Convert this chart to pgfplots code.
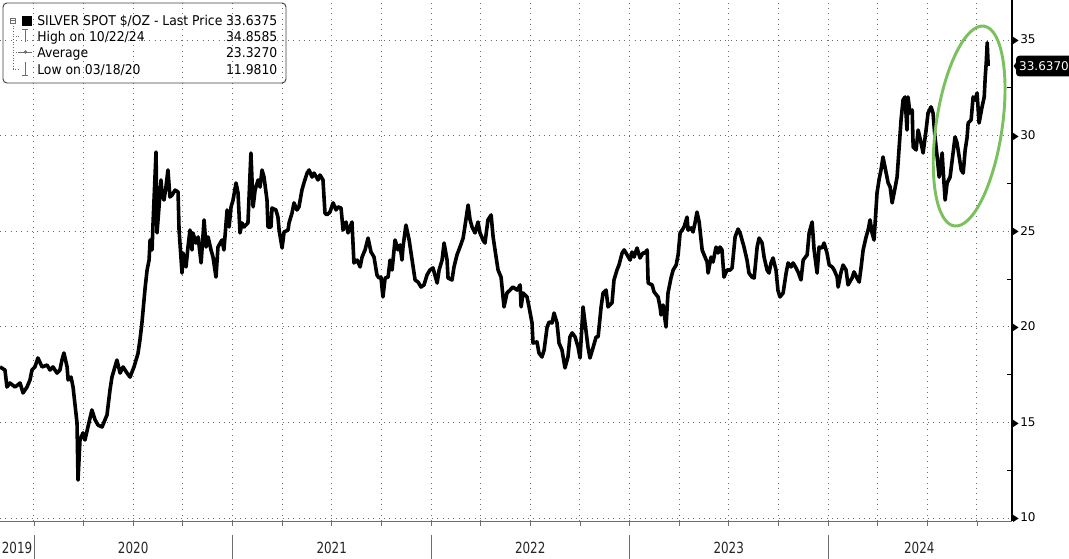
\documentclass[border=0pt]{standalone}
\usepackage{pgfplots}
\pgfplotsset{compat=1.18}
\usepackage{fontspec}
\setmainfont{DejaVu Sans}
\usetikzlibrary{calc}
\definecolor{ellgreen}{RGB}{122,192,92}
\definecolor{gridc}{RGB}{110,110,110}
\newcommand{\tri}{\raisebox{0.2pt}{\scalebox{0.62}[0.82]{▶}}\hspace{1.2pt}}
\newcommand{\lgd}[1]{\scalebox{0.92}[1]{#1}}
\begin{document}
\begin{tikzpicture}[x=1pt,y=1pt]
\begin{axis}[
  at={(0,0)}, anchor=south west,
  scale only axis, width=759pt, height=390.75pt,
  xmin=2019.829, xmax=2024.927, ymin=9.843, ymax=37.092,
  axis x line*=bottom, axis y line*=right,
  x axis line style={-, draw=gridc, line width=0.5pt},
  y axis line style={-, draw=black, line width=0.8pt},
  clip mode=individual,
  xtick={2020,2020.25,...,2024.8},
  xticklabels={},
  minor x tick num=2,
  tick align=outside,
  major tick length=3.75pt, minor tick length=3.75pt,
  xtick style={draw=gridc, line width=0.5pt},
  minor x tick style={draw=gridc, line width=0.5pt},
  ytick={10,15,20,25,30,35},
  yticklabels={{\tri10},{\tri15},{\tri20},{\tri25},{\tri30},{\tri35}},
  ytick style={draw=none},
  minor ytick={12.5,17.5,22.5,27.5,32.5},
  minor y tick style={draw=black, line width=0.6pt, xshift=-3.75pt},
  yticklabel style={font=\fontsize{9}{10}\selectfont, anchor=west, inner sep=0pt, xshift=-3.2pt},
  grid=major,
  major grid style={draw=gridc, line width=0.7pt, dash pattern=on 0.8pt off 3.2pt},
]
\addplot[black, line width=2.7pt, line join=round] table {
2019.829 17.90
2019.854 17.74
2019.864 16.85
2019.879 17.06
2019.905 16.85
2019.930 17.06
2019.945 16.54
2019.965 16.85
2019.980 17.22
2019.990 17.74
2020.005 17.90
2020.020 18.37
2020.041 17.90
2020.066 18.00
2020.081 17.74
2020.096 17.90
2020.116 17.58
2020.131 17.74
2020.141 18.26
2020.151 18.63
2020.167 17.90
2020.172 17.22
2020.187 17.37
2020.197 16.85
2020.217 14.97
2020.222 11.98
2020.232 14.08
2020.247 14.45
2020.257 14.08
2020.272 14.76
2020.292 15.65
2020.308 15.13
2020.323 14.86
2020.343 14.76
2020.368 15.39
2020.383 16.69
2020.393 17.37
2020.418 18.26
2020.434 17.58
2020.449 17.90
2020.469 17.58
2020.484 17.37
2020.504 17.90
2020.524 18.60
2020.534 19.31
2020.544 20.20
2020.560 22.03
2020.570 22.97
2020.580 23.49
2020.585 24.54
2020.595 24.02
2020.600 25.43
2020.615 29.14
2020.620 24.91
2020.630 26.27
2020.640 27.68
2020.645 27.00
2020.655 26.63
2020.665 27.31
2020.675 28.20
2020.685 26.79
2020.696 26.89
2020.711 27.15
2020.726 27.05
2020.731 25.06
2020.746 22.81
2020.751 23.86
2020.766 23.13
2020.776 24.17
2020.786 25.06
2020.796 24.02
2020.801 24.91
2020.816 24.38
2020.827 24.70
2020.842 23.34
2020.857 25.59
2020.867 24.17
2020.877 24.70
2020.892 24.02
2020.902 23.65
2020.917 22.60
2020.927 24.17
2020.947 24.54
2020.957 24.02
2020.973 26.11
2020.983 25.22
2020.993 26.27
2021.003 26.63
2021.018 27.52
2021.028 27.00
2021.038 24.91
2021.048 25.43
2021.058 25.22
2021.078 25.43
2021.083 26.63
2021.093 29.09
2021.104 26.27
2021.114 27.15
2021.129 27.68
2021.139 27.31
2021.149 28.20
2021.159 27.83
2021.174 26.63
2021.179 25.22
2021.194 25.22
2021.199 26.21
2021.219 26.11
2021.229 25.74
2021.235 25.06
2021.250 24.12
2021.260 24.96
2021.280 25.06
2021.285 25.43
2021.300 25.95
2021.310 26.48
2021.325 26.11
2021.335 26.27
2021.350 27.15
2021.360 27.52
2021.376 28.04
2021.386 28.20
2021.401 27.83
2021.411 28.04
2021.431 27.68
2021.441 27.94
2021.456 27.68
2021.466 25.95
2021.476 25.85
2021.491 26.00
2021.507 26.48
2021.522 26.11
2021.532 26.27
2021.547 26.21
2021.557 25.06
2021.572 25.48
2021.582 24.91
2021.602 25.48
2021.612 23.34
2021.628 23.49
2021.643 23.13
2021.653 23.65
2021.668 24.02
2021.683 24.64
2021.698 23.91
2021.713 23.65
2021.728 22.71
2021.738 22.55
2021.748 22.60
2021.758 21.56
2021.769 22.55
2021.784 22.60
2021.794 23.49
2021.804 22.97
2021.819 24.54
2021.834 24.02
2021.844 24.28
2021.854 23.49
2021.859 24.17
2021.874 25.32
2021.890 24.54
2021.905 23.49
2021.920 22.45
2021.935 22.34
2021.950 22.08
2021.965 22.19
2021.980 22.71
2021.995 22.97
2022.010 23.08
2022.031 22.29
2022.041 22.97
2022.056 23.49
2022.066 24.38
2022.081 23.49
2022.086 22.55
2022.106 22.45
2022.116 23.13
2022.131 23.76
2022.146 24.17
2022.162 24.64
2022.172 25.32
2022.187 26.37
2022.197 25.59
2022.207 25.22
2022.222 24.91
2022.237 25.48
2022.247 24.91
2022.262 24.54
2022.272 24.38
2022.287 25.59
2022.303 25.85
2022.313 24.70
2022.328 23.65
2022.338 22.97
2022.353 22.60
2022.368 21.04
2022.383 21.77
2022.398 21.92
2022.413 22.08
2022.434 21.92
2022.449 22.19
2022.454 21.04
2022.464 21.77
2022.484 21.56
2022.494 21.04
2022.509 20.20
2022.514 19.15
2022.534 19.21
2022.544 18.63
2022.559 18.42
2022.570 18.79
2022.585 19.99
2022.595 20.25
2022.610 20.20
2022.620 20.72
2022.635 20.20
2022.645 19.15
2022.660 18.79
2022.675 17.85
2022.690 18.42
2022.700 19.47
2022.711 19.68
2022.726 19.47
2022.741 18.94
2022.751 18.37
2022.766 21.04
2022.776 20.20
2022.791 18.94
2022.801 18.37
2022.816 18.89
2022.832 19.47
2022.842 19.47
2022.857 21.04
2022.867 21.77
2022.882 21.92
2022.892 21.04
2022.912 21.25
2022.922 22.45
2022.937 22.97
2022.947 23.23
2022.963 23.86
2022.973 24.02
2022.988 23.76
2023.003 23.49
2023.013 23.91
2023.023 23.65
2023.038 24.12
2023.053 23.60
2023.068 23.86
2023.078 23.86
2023.089 24.02
2023.094 22.29
2023.114 22.19
2023.124 21.82
2023.144 21.56
2023.154 21.04
2023.159 20.62
2023.169 21.14
2023.184 19.99
2023.194 21.77
2023.209 22.55
2023.220 22.97
2023.235 23.23
2023.245 23.76
2023.255 24.91
2023.265 25.06
2023.275 25.22
2023.290 25.74
2023.295 25.06
2023.310 25.17
2023.320 24.96
2023.330 25.43
2023.340 26.00
2023.351 25.48
2023.366 24.02
2023.376 23.76
2023.391 23.39
2023.396 22.81
2023.411 23.65
2023.421 23.39
2023.436 24.17
2023.446 23.86
2023.456 24.17
2023.466 24.02
2023.476 22.60
2023.491 22.97
2023.507 22.97
2023.517 23.08
2023.532 24.70
2023.547 25.11
2023.557 24.91
2023.567 24.54
2023.577 24.17
2023.592 23.49
2023.602 22.81
2023.617 22.60
2023.628 22.55
2023.643 24.17
2023.653 24.64
2023.668 24.38
2023.678 23.65
2023.693 22.97
2023.703 22.81
2023.713 23.34
2023.723 23.60
2023.738 22.97
2023.748 21.90
2023.758 21.56
2023.774 21.77
2023.789 22.81
2023.799 23.34
2023.814 23.13
2023.824 23.34
2023.839 23.08
2023.849 22.87
2023.864 22.45
2023.875 23.49
2023.895 23.76
2023.905 24.91
2023.920 25.48
2023.930 24.02
2023.945 22.81
2023.955 24.17
2023.970 24.12
2023.980 24.38
2023.995 23.86
2024.006 23.23
2024.021 23.13
2024.031 22.97
2024.046 22.60
2024.051 22.08
2024.066 22.87
2024.076 23.23
2024.091 22.97
2024.101 22.19
2024.121 22.55
2024.131 22.87
2024.146 22.55
2024.157 22.34
2024.167 23.13
2024.177 24.02
2024.192 24.70
2024.202 25.06
2024.212 25.59
2024.222 24.91
2024.232 24.54
2024.247 27.00
2024.257 27.68
2024.267 28.20
2024.277 28.88
2024.287 28.36
2024.303 27.52
2024.313 27.31
2024.323 26.48
2024.333 27.00
2024.348 27.83
2024.353 28.57
2024.368 30.82
2024.378 31.86
2024.388 32.02
2024.398 30.29
2024.403 32.02
2024.413 31.18
2024.424 31.34
2024.429 29.40
2024.444 29.25
2024.454 30.29
2024.469 29.61
2024.479 29.09
2024.494 30.29
2024.504 31.18
2024.519 31.50
2024.529 31.18
2024.539 29.93
2024.550 28.88
2024.560 27.83
2024.575 29.09
2024.580 28.20
2024.590 26.63
2024.600 27.52
2024.615 27.83
2024.630 29.09
2024.640 29.93
2024.650 29.61
2024.661 28.88
2024.671 28.20
2024.681 28.04
2024.691 29.25
2024.701 29.93
2024.706 30.66
2024.721 30.82
2024.731 32.02
2024.741 31.86
2024.751 32.23
2024.761 30.66
2024.776 31.50
2024.787 32.02
2024.792 33.06
2024.797 33.80
2024.802 34.86
2024.807 33.64
};
% annotation ellipse
\draw[ellgreen, line width=2.2pt] (axis cs:2024.711,30.50) circle[x radius=24.75pt, y radius=75.75pt, rotate=-8.5];
\coordinate (tag) at (axis cs:2024.927,33.637);
\coordinate (b2019) at (axis cs:2019.915,9.843);
\coordinate (b2020) at (axis cs:2020,9.843);
\coordinate (b2021) at (axis cs:2021,9.843);
\coordinate (b2022) at (axis cs:2022,9.843);
\coordinate (b2023) at (axis cs:2023,9.843);
\coordinate (b2024) at (axis cs:2024,9.843);
\coordinate (m2020) at (axis cs:2020.5,9.843);
\coordinate (m2021) at (axis cs:2021.5,9.843);
\coordinate (m2022) at (axis cs:2022.5,9.843);
\coordinate (m2023) at (axis cs:2023.5,9.843);
\coordinate (m2024) at (axis cs:2024.46,9.843);
\end{axis}
% year separators and labels
\foreach \yr in {2020,2021,2022,2023,2024}{
  \draw[gridc, line width=0.6pt] ([yshift=-10.5pt]b\yr) -- ([yshift=-28.5pt]b\yr);
}
\foreach \c/\lab in {b2019/2019,m2020/2020,m2021/2021,m2022/2022,m2023/2023,m2024/2024}{
  \node[font=\fontsize{11.5}{12}\selectfont, text=black!85, inner sep=0pt] at ([yshift=-20.5pt]\c) {\scalebox{0.78}[1]{\lab}};
}
% last price tag
\fill[black] ([xshift=1.2pt]tag) -- ([xshift=5pt,yshift=5.5pt]tag) -- ([xshift=5pt,yshift=-5.5pt]tag) -- cycle;
\node[fill=black, text=white, rounded corners=2.5pt, anchor=west, inner xsep=2.4pt, minimum height=15.5pt, font=\fontsize{9}{10}\selectfont] at ([xshift=2.8pt]tag) {33.6370};
% legend box
\draw[black!75, line width=0.7pt, rounded corners=3pt] (2.25,388.5) rectangle (214.5,328.5);
\begin{scope}[gridc, line width=0.6pt]
  \draw[dash pattern=on 0.8pt off 1.2pt] (9.75,373.5) -- (9.75,339) -- (14.25,339);
  \draw[dash pattern=on 0.8pt off 1.2pt] (9.75,363.75) -- (14.25,363.75);
  \draw[dash pattern=on 0.8pt off 1.2pt] (9.75,351.75) -- (14.25,351.75);
  \draw (7.9,373.3) rectangle (11.6,377);
  \draw (8.6,375.15) -- (10.9,375.15);
  \draw (16.8,369) -- (20.7,369); \draw (18.75,369) -- (18.75,359.25);
  \draw (14.25,351.75) -- (24,351.75); \fill (19.1,351.75) circle[radius=1.4pt];
  \draw (18.75,344.25) -- (18.75,334.5); \draw (16.8,334.5) -- (20.7,334.5);
\end{scope}
\fill[black] (16.5,371.6) rectangle (24,378.4);
\begin{scope}[every node/.style={font=\fontsize{10.1}{11}\selectfont, inner sep=0pt}]
  \node[anchor=base west] at (27.75,371.3) {\lgd{SILVER SPOT \$/OZ - Last Price}};
  \node[anchor=base east] at (208.2,371.3) {\lgd{33.6375}};
  \node[anchor=base west] at (27.75,359.9) {\lgd{High on 10/22/24}};
  \node[anchor=base east] at (208.2,359.9) {\lgd{34.8585}};
  \node[anchor=base west] at (27.75,347.9) {\lgd{Average}};
  \node[anchor=base east] at (208.2,347.9) {\lgd{23.3270}};
  \node[anchor=base west] at (27.75,335.2) {\lgd{Low on 03/18/20}};
  \node[anchor=base east] at (208.2,335.2) {\lgd{11.9810}};
\end{scope}
\pgfresetboundingbox
\path[use as bounding box] (0,-28.5) rectangle (801.75,390.75);
\end{tikzpicture}
\end{document}
